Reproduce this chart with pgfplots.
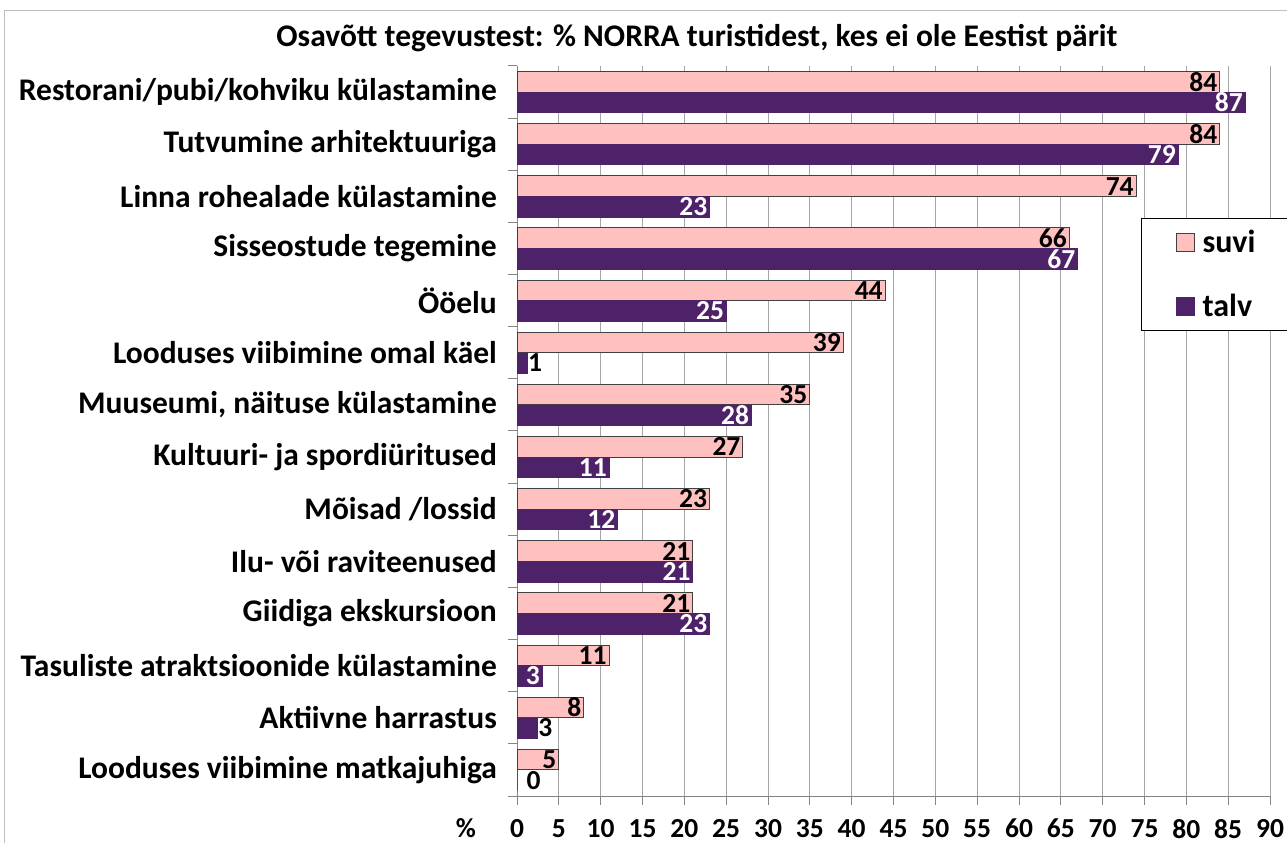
\documentclass[border=0pt]{standalone}
\usepackage{pgfplots}
\pgfplotsset{compat=1.18}
\usepackage{pgfplotstable}
\usepackage{fontspec}
\setmainfont{Carlito}
\definecolor{suvi}{HTML}{FFC0C0}
\definecolor{talv}{HTML}{4E2269}
\definecolor{gridc}{HTML}{A6A6A6}
\newcommand{\cf}{\fontsize{27.5bp}{30bp}\selectfont\bfseries}
\newcommand{\lf}{\fontsize{31.5bp}{34bp}\selectfont\bfseries}
\newcommand{\gf}{\fontsize{32bp}{34bp}\selectfont\bfseries}

\pgfplotstableread{
y suvi talv
13 84 87
12 84 79
11 74 23
10 66 67
9 44 25
8 39 1.2
7 35 28
6 27 11
5 23 12
4 21 21
3 21 23
2 11 3
1 8 2.4
0 5 0
}\data
\pgfplotstableread{
y talv
13 87
12 79
11 23
10 67
9 25
7 28
6 11
5 12
4 21
3 23
2 3
}\talvin
\pgfplotstableread{
y pos lab
8 1.2 1
1 2.4 3
0 1.0 0
}\talvout

\begin{document}
\begin{tikzpicture}
\useasboundingbox (0,0) rectangle (1287bp,843bp);
\draw[gray!50, line width=1bp] (4bp,-20bp) -- (4bp,832bp) -- (1300bp,832bp);
\begin{axis}[
  at={(517bp,47bp)}, anchor=south west,
  scale only axis, width=753bp, height=730bp,
  xbar, bar width=20.5bp,
  xmin=0, xmax=90, ymin=-0.5, ymax=13.5,
  clip=false,
  /pgf/number format/assume math mode=true,
  xtick={0,5,...,90},
  ytick={0,...,13},
  yticklabels={Looduses viibimine matkajuhiga, Aktiivne harrastus, Tasuliste atraktsioonide külastamine, Giidiga ekskursioon, Ilu- või raviteenused, {Mõisad /lossid }, Kultuuri- ja spordiüritused, {Muuseumi, näituse külastamine}, Looduses viibimine omal käel, Ööelu, Sisseostude tegemine, Linna rohealade külastamine, Tutvumine arhitektuuriga, Restorani/pubi/kohviku külastamine},
  minor ytick={-0.5,0.5,...,13.5},
  axis lines*=left,
  axis line style={gridc!80!black, line width=1bp},
  xmajorgrids,
  grid style={gridc, line width=1bp},
  tick align=outside,
  major tick length=9bp, minor tick length=9bp,
  every tick/.style={gridc!80!black, line width=1bp},
  every major y tick/.style={draw=none},
  yticklabel style={font=\lf, anchor=east, inner sep=0pt, xshift=-11bp},
  xticklabel style={font=\cf, anchor=north, inner sep=0pt, yshift=-14bp},
  legend cell align=left,
  legend style={at={(0.8287,0.7918)}, anchor=north west, draw=black, line width=1bp,
    font=\gf, nodes={font=\gf},
    inner xsep=34bp, inner ysep=10bp, row sep=36bp,
    /tikz/every odd column/.append style={column sep=6bp},
    /tikz/every even column/.append style={inner xsep=0pt}},
  legend image code/.code={\draw[#1, line width=1bp] (0bp,-9bp) rectangle (18bp,9bp);},
]
\addplot[fill=suvi, draw=black!75, line width=1bp, bar shift=10.25bp,
  nodes near coords, nodes near coords style={anchor=east, text=black, font=\cf, inner xsep=2bp, inner ysep=0pt}]
  table[x=suvi, y=y]{\data};
\addlegendentry{\gf suvi}
\addplot[fill=talv, draw=talv, line width=0.5bp, bar shift=-10.25bp]
  table[x=talv, y=y]{\data};
\addlegendentry{\gf talv}
\addplot[xbar, draw=none, fill=none, bar shift=-10.25bp, forget plot,
  nodes near coords, nodes near coords style={anchor=east, text=white, font=\cf, inner xsep=2bp, inner ysep=0pt}]
  table[x=talv, y=y]{\talvin};
\addplot[xbar, draw=none, fill=none, bar shift=-10.25bp, forget plot,
  point meta=explicit symbolic,
  nodes near coords, nodes near coords style={anchor=west, text=black, font=\cf, inner xsep=1bp, inner ysep=0pt}]
  table[x=pos, y=y, meta=lab]{\talvout};
\end{axis}
\node[font=\lf] at (697bp,805bp) {Osavõtt tegevustest: \% NORRA turistidest, kes ei ole Eestist pärit};
\node[font=\cf] at (466bp,15bp) {\%};
\end{tikzpicture}
\end{document}
